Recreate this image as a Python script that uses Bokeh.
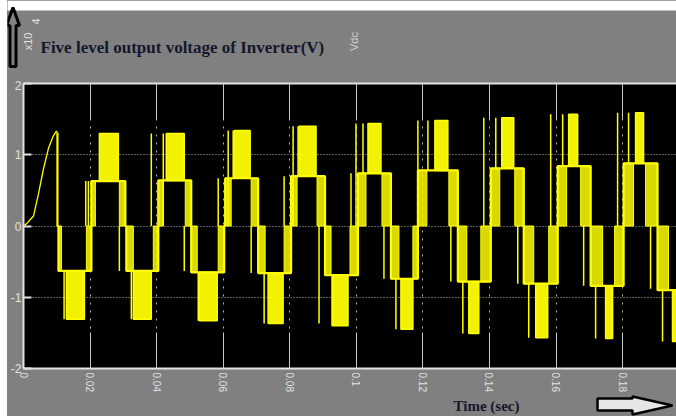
import numpy as np
from bokeh.plotting import figure
from bokeh.layouts import column
from bokeh.models import FixedTicker, LinearAxis, Range1d, Plot, ColumnDataSource
from bokeh.models.glyphs import Quad, Text, Patch
from bokeh.core.properties import value
from bokeh.embed import file_html
from bokeh.resources import INLINE

# ---- axis ticks -------------------------------------------------------------
x_ticks = [0, 0.02, 0.04, 0.06, 0.08, 0.10, 0.12, 0.14, 0.16, 0.18]
x_tick_labels = ["0", "0.02", "0.04", "0.06", "0.08", "0.1", "0.12", "0.14", "0.16", "0.18"]
y_ticks = [-2, -1, 0, 1, 2]
y_tick_labels = ["-2", "-1", "0", "1", "2"]

# ---- start-up transient of the output (V, x1e4) -----------------------------
ramp_t = [0.0, 0.0009, 0.0030, 0.0045, 0.0060, 0.0075, 0.0090, 0.0099, 0.0102]
ramp_v = [0.0, 0.03, 0.14, 0.45, 0.80, 1.09, 1.27, 1.33, 1.31]

# ---- staircase half cycles (s) ----------------------------------------------
rise_start = [0.0105, 0.0204, 0.0309, 0.0405, 0.0504, 0.0606, 0.0705, 0.0804, 0.0906, 0.1005,
              0.1104, 0.1185, 0.1305, 0.1404, 0.1503, 0.1605, 0.1704, 0.1803, 0.1905]
rise_end = [0.0114, 0.0216, 0.0330, 0.0420, 0.0522, 0.0624, 0.0726, 0.0822, 0.0924, 0.1029,
            0.1128, 0.1212, 0.1332, 0.1431, 0.1533, 0.1632, 0.1740, 0.1833, 0.1938]
blk_start = [0.0129, 0.0228, 0.0330, 0.0429, 0.0528, 0.0633, 0.0735, 0.0828, 0.0927, 0.1035,
             0.1134, 0.1236, 0.1338, 0.1437, 0.1539, 0.1638, 0.1749, 0.1839, 0.1950]
blk_end = [0.0183, 0.0285, 0.0384, 0.0483, 0.0582, 0.0681, 0.0780, 0.0879, 0.0975, 0.1074,
           0.1170, 0.1275, 0.1368, 0.1473, 0.1575, 0.1665, 0.1770, 0.1863, 0.1974]
fall_start = [0.0189, 0.0288, 0.0390, 0.0486, 0.0585, 0.0684, 0.0783, 0.0882, 0.0981, 0.1077,
              0.1170, 0.1278, 0.1374, 0.1476, 0.1578, 0.1674, 0.1776, 0.1869, 0.1974]
fall_end = [0.0204, 0.0306, 0.0405, 0.0504, 0.0603, 0.0705, 0.0804, 0.0906, 0.1005, 0.1104,
            0.1185, 0.1305, 0.1404, 0.1503, 0.1605, 0.1704, 0.1803, 0.1905, 0.1989]
mid_level = [-0.63, 0.63, -0.63, 0.64, -0.65, 0.67, -0.66, 0.70, -0.69, 0.74,
             -0.74, 0.78, -0.78, 0.81, -0.81, 0.84, -0.84, 0.88, -0.90]
peak_level = [-1.31, 1.30, -1.31, 1.30, -1.33, 1.34, -1.37, 1.40, -1.40, 1.44,
              -1.45, 1.48, -1.51, 1.52, -1.57, 1.57, -1.58, 1.59, -1.62]

# ---- isolated switching pulses ------------------------------------------------
spike_t = [0.0122, 0.0187, 0.0195, 0.0288, 0.0324, 0.0384, 0.0420, 0.0483, 0.0525, 0.0585,
           0.0615, 0.0630, 0.0684, 0.0723, 0.0783, 0.0810, 0.0825, 0.0888, 0.0930, 0.0984,
           0.0999, 0.1020, 0.1083, 0.1119, 0.1185, 0.1215, 0.1284, 0.1320, 0.1383, 0.1419,
           0.1485, 0.1518, 0.1584, 0.1620, 0.1683, 0.1719, 0.1785, 0.1818, 0.1884, 0.1920]
spike_from = [-0.63, 0.0, 0.0, 0.0, -0.63, 0.0, 0.0, 0.0, -0.65, 0.0,
              0.0, 0.67, 0.0, -0.66, 0.0, 0.0, 0.70, 0.0, -0.69, 0.0,
              0.0, 0.74, 0.0, -0.74, 0.0, 0.78, 0.0, -0.78, 0.0, 0.81,
              0.0, -0.81, 0.0, 0.84, 0.0, -0.84, 0.0, 0.88, 0.0, -0.90]
spike_to = [-1.31, 0.63, 0.63, -0.63, -1.31, 1.30, 1.30, -0.63, -1.33, 0.67,
            1.34, 1.34, -0.66, -1.37, 0.70, 1.40, 1.40, -1.37, -1.40, 0.74,
            1.44, 1.44, -0.74, -1.45, 1.48, 1.48, -0.78, -1.51, 1.52, 1.52,
            -0.81, -1.57, 1.57, 1.57, -0.84, -1.58, 1.59, 1.59, -0.88, -1.62]

YELLOW = "#ffff00"
GRAY = "#808080"
LIGHT = "#e2e2e2"
INK = "#16162c"
W = 669          # width of the gray scope panel (a 7 px white strip sits on its left)


def panel(height, y_top, y_bottom):
    """Bare gray strip laid out in pixel coordinates (y grows downwards)."""
    return Plot(width=W, height=height, x_range=Range1d(7, 676),
                y_range=Range1d(start=y_bottom, end=y_top),
                output_backend="svg", toolbar_location=None, title=None,
                min_border=0, min_border_left=0, min_border_right=0,
                min_border_top=0, min_border_bottom=0,
                outline_line_color=None,
                background_fill_color=GRAY, border_fill_color=GRAY)


# ---- header: title, exponent, up arrow ---------------------------------------
head = panel(80, y_top=0, y_bottom=80)
head.add_glyph(ColumnDataSource(dict(l=[0], r=[676], t=[0], b=[10])),
               Quad(left="l", right="r", top="t", bottom="b", fill_color="white", line_color=None))
head.add_glyph(ColumnDataSource(dict(x=[40], y=[47], s=["Five level output voltage of Inverter(V)"])),
               Text(x="x", y="y", text="s", text_font=value("Liberation Serif"),
                    text_font_style="bold", text_font_size="17px", text_color=INK,
                    text_baseline="alphabetic"))
head.add_glyph(ColumnDataSource(dict(x=[27, 35, 353], y=[41, 21, 41], s=["x10", "4", "Vdc"],
                                     c=[LIGHT, LIGHT, "#d0d0d0"])),
               Text(x="x", y="y", text="s", angle=np.pi / 2, text_font=value("Liberation Sans"),
                    text_font_size="11px", text_color="c",
                    text_align="center", text_baseline="middle"))
head.add_glyph(ColumnDataSource(dict(x=[12.5, 19, 15.5, 15.5, 9.5, 9.5, 6],
                                     y=[7, 25, 25, 66, 66, 25, 25])),
               Patch(x="x", y="y", fill_alpha=0, line_color="black", line_width=3))

# ---- scope plot -----------------------------------------------------------------
p = figure(width=W, height=314, x_range=Range1d(0, 0.1962), y_range=Range1d(-2.0, 2.0),
           output_backend="svg", toolbar_location=None,
           background_fill_color="black", border_fill_color=GRAY,
           min_border_left=15, min_border_right=0, min_border_top=3, min_border_bottom=26)
p.outline_line_color = None

xa = p.xaxis[0]
xa.ticker = FixedTicker(ticks=x_ticks)
xa.major_label_overrides = dict(zip(x_ticks, x_tick_labels))
xa.major_label_orientation = "vertical"
xa.major_label_text_font = "Liberation Sans"
xa.major_label_text_font_size = "10px"
xa.major_label_text_color = LIGHT
xa.major_label_standoff = 4
xa.axis_label_standoff = 0
xa.major_tick_in = 36
xa.major_tick_out = 0
xa.major_tick_line_color = "#c8c8c8"
xa.minor_tick_line_color = None
xa.axis_line_color = LIGHT
xa.axis_line_width = 2

top = LinearAxis(ticker=FixedTicker(ticks=x_ticks), major_label_text_color=None,
                 major_label_text_font_size="0px", major_label_standoff=0,
                 axis_label_standoff=0,
                 major_tick_in=36, major_tick_out=0, major_tick_line_color="#c8c8c8",
                 minor_tick_line_color=None, axis_line_color=LIGHT, axis_line_width=2)
p.add_layout(top, "above")

ya = p.yaxis[0]
ya.ticker = FixedTicker(ticks=y_ticks)
ya.major_label_overrides = dict(zip(y_ticks, y_tick_labels))
ya.major_label_text_font = "Liberation Sans"
ya.major_label_text_font_size = "12px"
ya.major_label_text_color = LIGHT
ya.major_label_standoff = 2
ya.axis_label_standoff = 0
ya.major_tick_in = 8
ya.major_tick_out = 0
ya.major_tick_line_width = 2
ya.major_tick_line_color = LIGHT
ya.minor_tick_line_color = None
ya.axis_line_color = LIGHT
ya.axis_line_width = 2

p.xgrid.grid_line_color = "#b4b4b4"
p.xgrid.grid_line_dash = "2 6"
p.ygrid.grid_line_color = "#b4b4b4"
p.ygrid.grid_line_dash = "1 2"

p.line(ramp_t, ramp_v, color=YELLOW, line_width=1.3)

# staircase outline: zero -> first level -> zero for every half cycle
xs = [ramp_t[-1], ramp_t[-1]]
ys = [ramp_v[-1], 0.0]
for rs, fe, m in zip(rise_start, fall_end, mid_level):
    xs += [rs, rs, fe, fe]
    ys += [0.0, m, m, 0.0]
p.line(xs, ys, color=YELLOW, line_width=2.2)

mid = np.array(mid_level)
peak = np.array(peak_level)
zero = np.zeros_like(mid)

# PWM bands between zero and the first level
for s, e in ((rise_start, rise_end), (fall_start, fall_end)):
    p.quad(left=s, right=e, bottom=np.minimum(zero, mid), top=np.maximum(zero, mid),
           fill_color=YELLOW, fill_alpha=0.85, line_color=YELLOW, line_width=1)

# PWM blocks between the first and second level
p.quad(left=blk_start, right=blk_end, bottom=np.minimum(mid, peak), top=np.maximum(mid, peak),
       fill_color=YELLOW, fill_alpha=0.95, line_color=YELLOW, line_width=1.5)

p.segment(x0=spike_t, y0=spike_from, x1=spike_t, y1=spike_to, color=YELLOW, line_width=1.5)

# ---- footer: axis caption and right arrow ------------------------------------
foot = panel(22, y_top=394, y_bottom=416)
foot.add_glyph(ColumnDataSource(dict(x=[486], y=[405], s=["Time (sec)"])),
               Text(x="x", y="y", text="s", text_font=value("Liberation Serif"),
                    text_font_style="bold", text_font_size="15px", text_color=INK,
                    text_align="center", text_baseline="alphabetic"))
foot.add_glyph(ColumnDataSource(dict(x=[597, 632, 632, 672, 632, 632, 597],
                                     y=[398, 398, 396, 405, 414, 410, 410])),
               Patch(x="x", y="y", fill_color="#e6e6e6", line_color="black", line_width=2.5))

# each part keeps its own frame: header/footer span their full width
if "frame_align" in Plot.properties():
    for part in (head, p, foot):
        part.frame_align = False

# the three parts are stacked on a gray column so any seams stay invisible
layout = column(head, p, foot, spacing=0, margin=(0, 0, 0, 7),
                styles={"background-color": GRAY})
open("out.html", "w").write(file_html(layout, INLINE))
